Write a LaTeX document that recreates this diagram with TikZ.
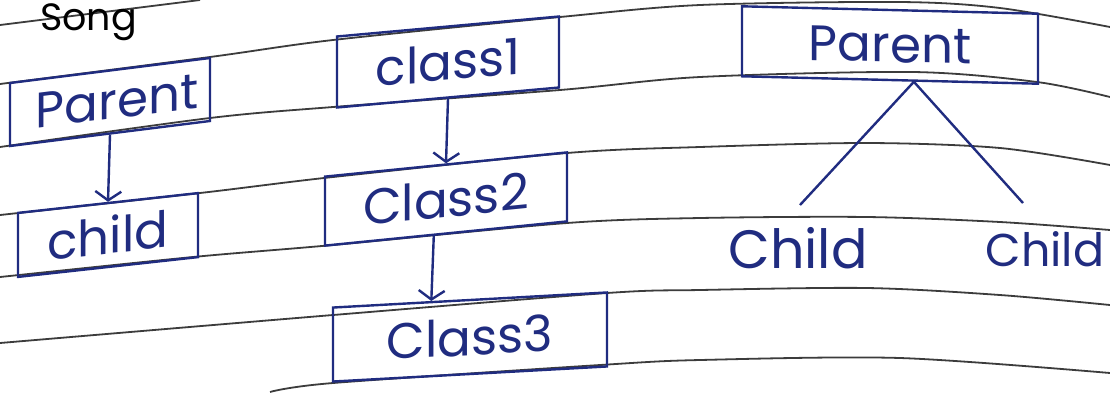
\documentclass[tikz,border=0pt]{standalone}
\usepackage{fontspec}
\setmainfont{Poppins}
\usetikzlibrary{arrows.meta,calc}
\definecolor{ink}{HTML}{202C80}
\definecolor{rulec}{HTML}{3C3C3C}
\begin{document}
\begin{tikzpicture}[x=1pt,y=-1pt,
  ruled/.style={draw=rulec, line width=1.8pt},
  box/.style={draw=ink, line width=2.4pt, text=ink, inner sep=0pt, font=\fontsize{50}{50}\selectfont},
  hand/.style={text=ink, inner sep=0pt},
  link/.style={draw=ink, line width=2.4pt},
  arr/.style={link, -{Straight Barb[length=9pt,width=26pt,line width=2.4pt]}}]
\useasboundingbox (0,0) rectangle (1110,392);
\clip (0,0) rectangle (1110,392);
\fill[white] (0,0) rectangle (1110,392);
% notebook rules
\draw[ruled] plot[smooth] coordinates {(0,25) (200,0)};
\draw[ruled] plot[smooth] coordinates {(0,84) (210,57) (333,40) (560,17) (700,5) (900,2) (1000,8) (1110,27)};
\draw[ruled] plot[smooth] coordinates {(0,147) (210,118) (333,107) (560,90) (700,77) (913,72) (1037,82) (1110,97)};
\draw[ruled] plot[smooth] coordinates {(0,215) (200,193) (333,177) (567,153) (700,147) (867,143) (1000,148) (1110,165)};
\draw[ruled] plot[smooth] coordinates {(0,277) (193,257) (333,245) (567,223) (700,218) (867,217) (1000,222) (1110,230)};
\draw[ruled] plot[smooth] coordinates {(0,343) (333,315) (607,293) (700,290) (867,288) (1000,295) (1110,305)};
\draw[ruled] plot[smooth] coordinates {(270,392) (333,383) (600,365) (700,360) (900,358) (1110,373)};
% heading
\node[anchor=base west, inner sep=0pt, font=\fontsize{38}{38}\selectfont] (song) at (40,30) {Song};
% left: single
\node[box, minimum width=200pt, minimum height=63pt, yslant=0.125] (pl) at (110,102) {\hspace{14pt}\raisebox{-7pt}{Parent}};
\node[box, minimum width=180pt, minimum height=64pt, yslant=0.11] (ch) at (108,235) {\raisebox{-4pt}{child}};
\draw[arr] (pl.south) -- (ch.north);
% middle: multilevel
\node[box, minimum width=222pt, minimum height=71pt, yslant=0.09] (c1) at (448,62) {\raisebox{-2pt}{class1}};
\node[box, minimum width=242pt, minimum height=69pt, yslant=0.1] (c2) at (446,199) {\raisebox{-3pt}{Class2}};
\node[box, minimum width=274pt, minimum height=74pt, yslant=0.055] (c3) at (470,337) {\raisebox{-3pt}{Class3}};
\draw[arr] (c1.south) -- (c2.north);
\draw[arr] ($(c2.south west)!0.45!(c2.south east)$) -- ($(c3.north west)!0.36!(c3.north east)$);
% right: hierarchical
\node[box, minimum width=296pt, minimum height=70pt, yslant=-0.025] (pr) at (890,45) {\raisebox{-2pt}{Parent}};
\node[hand, anchor=base, font=\fontsize{54}{54}\selectfont] (k1) at (798,268) {Child};
\node[hand, anchor=base, font=\fontsize{46}{46}\selectfont] (k2) at (1045,266) {Child};
\draw[link] ($(pr.south west)!0.58!(pr.south east)$) -- ($(k1.base)+(2,-63)$);
\draw[link] ($(pr.south west)!0.58!(pr.south east)$) -- ($(k2.base)+(-22,-63)$);
\end{tikzpicture}
\end{document}
